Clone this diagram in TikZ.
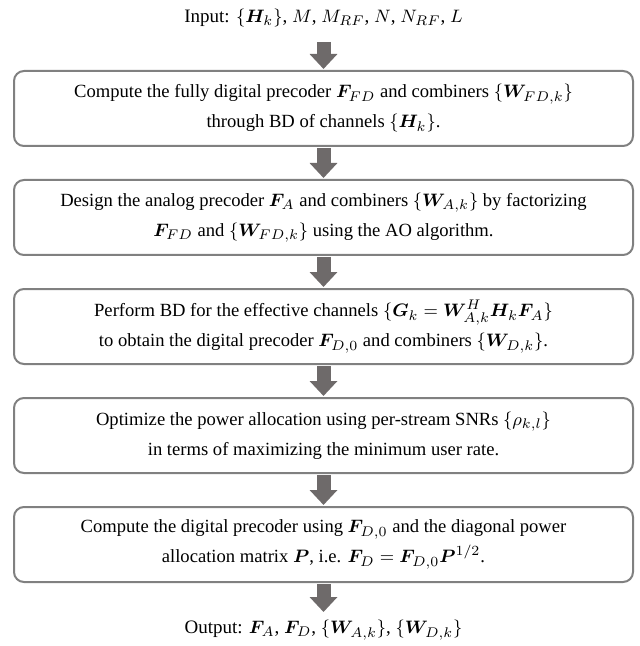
\documentclass[tikz,border=0pt]{standalone}
\usepackage{amsmath,bm}
\usepackage{fontspec}
\setmainfont{Liberation Serif}
\usetikzlibrary{positioning, arrows.meta}
\definecolor{boxgray}{RGB}{128,128,128}
\definecolor{arrowgray}{RGB}{110,106,106}
\tikzset{
  stepbox/.style={draw=boxgray, line width=1pt, rounded corners=5pt, minimum width=309.5pt,
    minimum height=37.5pt, align=center, inner sep=0pt, font=\fontsize{9.3pt}{15pt}\selectfont},
  iotext/.style={font=\fontsize{9.5pt}{15pt}\selectfont},
  bigarrow/.style={draw=arrowgray, line width=7pt, -{Triangle[width=13.5pt,length=7.5pt]},
    shorten <=0.5pt, shorten >=0.5pt}
}
\begin{document}
\begin{tikzpicture}[x=0.5pt, y=-0.5pt]
  \useasboundingbox (0,0) rectangle (639,646);
  \node[stepbox] (s1) at (323.5,108.5) {Compute the fully digital precoder $\bm{F}_{FD}$ and combiners $\{\bm{W}_{FD,k}\}$\\ through BD of channels $\{\bm{H}_k\}$.};
  \node[stepbox, below=16pt of s1] (s2) {Design the analog precoder $\bm{F}_A$ and combiners $\{\bm{W}_{A,k}\}$ by factorizing\\ $\bm{F}_{FD}$ and $\{\bm{W}_{FD,k}\}$ using the AO algorithm.};
  \node[stepbox, below=16pt of s2] (s3) {Perform BD for the effective channels $\{\bm{G}_k=\bm{W}_{A,k}^H\bm{H}_k\bm{F}_A\}$\\ to obtain the digital precoder $\bm{F}_{D,0}$ and combiners $\{\bm{W}_{D,k}\}$.};
  \node[stepbox, below=16pt of s3] (s4) {Optimize the power allocation using per-stream SNRs $\{\rho_{k,l}\}$\\ in terms of maximizing the minimum user rate.};
  \node[stepbox, below=16pt of s4] (s5) {Compute the digital precoder using $\bm{F}_{D,0}$ and the diagonal power\\ allocation matrix $\bm{P}$, i.e. $\bm{F}_D=\bm{F}_{D,0}\bm{P}^{1/2}$.};
  \node[iotext, above=18pt of s1] (in) {Input: $\{\bm{H}_k\}$, $M$, $M_{RF}$, $N$, $N_{RF}$, $L$};
  \node[iotext, below=15pt of s5] (out) {Output: $\bm{F}_A$, $\bm{F}_D$, $\{\bm{W}_{A,k}\}$, $\{\bm{W}_{D,k}\}$};
  \draw[bigarrow, shorten <=4pt] (in) -- (s1);
  \draw[bigarrow] (s1) -- (s2);
  \draw[bigarrow] (s2) -- (s3);
  \draw[bigarrow] (s3) -- (s4);
  \draw[bigarrow] (s4) -- (s5);
  \draw[bigarrow] (s5) -- (out);
\end{tikzpicture}
\end{document}
